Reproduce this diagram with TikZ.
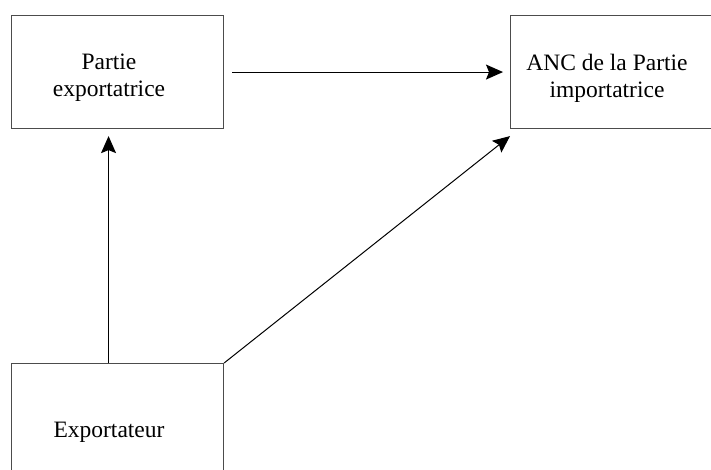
\documentclass[tikz,border=0pt]{standalone}
\usepackage{fontspec}
\setmainfont{Liberation Serif}
\usetikzlibrary{arrows.meta}
\begin{document}
\begin{tikzpicture}[x=1pt,y=-1pt,
  box/.style={draw=black!70,line width=1.1pt,minimum width=212pt,minimum height=113pt,inner sep=0pt,anchor=north west},
  lbl/.style={font=\fontsize{23.5}{27}\selectfont,align=center,inner sep=0pt},
  arr/.style={line width=1pt,-{Stealth[length=17pt,width=15pt,inset=3pt]}}]
\useasboundingbox (0,0) rectangle (711,469);
\clip (0,0) rectangle (711,469);
\node[box] (pe) at (11,15) {};
\node[box,minimum width=220pt] (anc) at (510,15) {};
\node[box,minimum height=125pt] (exp) at (11,363) {};
\node[lbl] (tpe) at (109,78) {Partie\\exportatrice};
\node[lbl] (tanc) at (607,78) {ANC de la Partie\\importatrice};
\node[lbl,anchor=base] (texp) at (109,437) {Exportateur};
\draw[arr,shorten <=8pt,shorten >=7pt] (pe.east) -- (anc.west);
\draw[arr,shorten >=7pt] ([xshift=-9pt]exp.north) -- ([xshift=-9pt]pe.south);
\draw[arr] (exp.north east) -- ([yshift=-7pt]anc.south west);
\end{tikzpicture}
\end{document}
